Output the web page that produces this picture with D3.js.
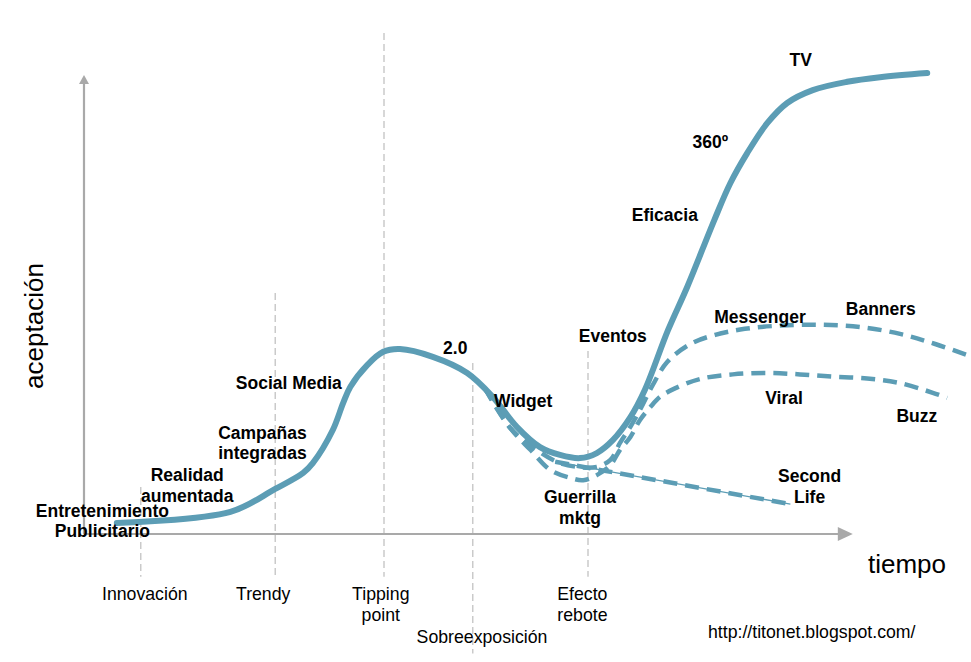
<!DOCTYPE html>
<html>
<head>
<meta charset="utf-8">
<script src="https://cdn.jsdelivr.net/npm/d3@7"></script>
<style>
  html, body { margin: 0; padding: 0; background: #fff; }
  svg { display: block; }
  text { font-family: "Liberation Sans", Arial, Helvetica, sans-serif; fill: #000; }
</style>
</head>
<body>
<script>
// ---------- DATA (time units, acceptance units) ----------
const mainCurve = [
  [4.1,2.4],[18.3,4.8],[23.9,9.8],[27.4,13.3],[28.6,15.4],[31.1,22.6],[32.4,28.5],[33.3,32.0],
  [35.4,36.7],[37.4,39.6],[39.5,40.2],[43.6,38.5],[47.9,35.0],[51.1,29.8],[54.1,23.3],[57.0,18.9],
  [59.5,17.2],[62.0,16.5],[64.1,17.6],[66.1,20.4],[68.3,25.4],[70.1,31.3],[73.0,44.3],[75.4,53.7],
  [78.8,68.3],[80.8,76.3],[82.9,82.8],[85.4,89.3],[87.9,93.7],[91.1,96.5],[95.4,98.3],[99.5,99.3],[105.4,100.2]
];
const bannersCurve = [
  [50.1,31.7],[53.3,23.0],[56.1,18.9],[59.1,15.7],[61.6,14.6],[64.1,14.6],[65.8,16.1],[67.0,19.8],
  [68.3,23.3],[69.5,27.0],[71.1,32.4],[72.9,37.4],[75.8,41.3],[78.9,43.3],[82.6,44.6],[87.0,45.3],
  [92.0,45.5],[97.0,45.0],[102.0,43.5],[106.4,41.3],[111.4,38.3]
];
const viralCurve = [
  [50.1,31.7],[53.3,23.0],[55.8,18.3],[58.3,13.9],[60.8,12.2],[62.4,11.7],[64.1,12.8],[65.8,15.0],
  [67.0,18.3],[68.3,21.1],[69.5,24.8],[70.8,27.6],[72.0,29.8],[73.8,31.6],[77.0,33.7],[81.1,34.7],
  [85.4,35.0],[89.5,34.7],[93.6,34.2],[97.9,33.8],[102.0,32.8],[106.1,30.7],[107.9,29.6]
];
const secondLifeCurve = [[58.9,15.7],[63.3,14.3],[88.3,6.5]];

// curve annotations: text lines, x, y (baseline of first line)
const curveLabels = [
  {t:["TV"], x:89.6, y:101.7},
  {t:["360º"], x:78.3, y:83.9},
  {t:["Eficacia"], x:72.6, y:68.0},
  {t:["Messenger"], x:84.5, y:45.9},
  {t:["Banners"], x:99.6, y:47.6},
  {t:["Eventos"], x:66.1, y:41.7},
  {t:["2.0"], x:46.4, y:39.1},
  {t:["Widget"], x:54.9, y:27.6},
  {t:["Viral"], x:87.5, y:28.3},
  {t:["Buzz"], x:104.1, y:24.3},
  {t:["Social Media"], x:25.6, y:31.5},
  {t:["Campañas","integradas"], x:22.3, y:20.7},
  {t:["Realidad","aumentada"], x:12.9, y:11.5},
  {t:["Entretenimiento","Publicitario"], x:2.3, y:3.7},
  {t:["Guerrilla","mktg"], x:62.0, y:6.7},
  {t:["Second","Life"], x:90.7, y:11.3}
];

// phases: guide line x, guide top/bottom, label lines, label x, label y
const phases = [
  {x:7.1,  top:10.2,  bottom:-9.3,  t:["Innovación"], lx:7.6,  ly:-14.3},
  {x:23.9, top:52.4,  bottom:-9.3,  t:["Trendy"], lx:22.4, ly:-14.3},
  {x:37.5, top:108.9, bottom:-9.3,  t:["Tipping","point"], lx:37.1, ly:-14.3},
  {x:48.6, top:37.2,  bottom:-26.0, t:["Sobreexposición"], lx:49.75, ly:-23.7},
  {x:63.0, top:39.8,  bottom:-9.3,  t:["Efecto","rebote"], lx:62.3, ly:-14.3}
];
const xAxisEnd = 96.1, yAxisEnd = 100;

// ---------- CHART ----------
const W = 971, H = 662;
const color = "#5c9db5";
const axisColor = "#a9a9a9";
const svg = d3.select("body").append("svg").attr("width", W).attr("height", H);

const x = d3.scaleLinear().domain([0, 100]).range([84, 884]);
const y = d3.scaleLinear().domain([0, 100]).range([534, 74]);

// guides
svg.append("g").selectAll("line").data(phases).join("line")
  .attr("x1", d => x(d.x)).attr("x2", d => x(d.x))
  .attr("y1", d => y(d.top)).attr("y2", d => y(d.bottom))
  .attr("stroke", "#bdbdbd").attr("stroke-width", 1.2).attr("stroke-dasharray", "7,4");

// axes
svg.append("line").attr("x1", x(0)).attr("y1", y(0)).attr("x2", x(xAxisEnd) - 12).attr("y2", y(0))
  .attr("stroke", axisColor).attr("stroke-width", 2.2);
svg.append("path")
  .attr("d", `M${x(xAxisEnd)},${y(0)} L${x(xAxisEnd)-15},${y(0)-7} L${x(xAxisEnd)-15},${y(0)+7} Z`)
  .attr("fill", axisColor);
svg.append("line").attr("x1", x(0)).attr("y1", y(0)).attr("x2", x(0)).attr("y2", y(yAxisEnd) + 7)
  .attr("stroke", axisColor).attr("stroke-width", 2.2);
svg.append("path")
  .attr("d", `M${x(0)},${y(yAxisEnd)+1} L${x(0)-5},${y(yAxisEnd)+10} L${x(0)+5},${y(yAxisEnd)+10} Z`)
  .attr("fill", axisColor);

// curves
const line = d3.line().x(d => x(d[0])).y(d => y(d[1])).curve(d3.curveCatmullRom.alpha(0.5));
const straight = d3.line().x(d => x(d[0])).y(d => y(d[1]));

svg.append("path").attr("d", straight(secondLifeCurve))
  .attr("fill", "none").attr("stroke", color).attr("stroke-width", 1.3);
svg.append("path").attr("d", straight(secondLifeCurve))
  .attr("fill", "none").attr("stroke", color).attr("stroke-width", 4.5)
  .attr("stroke-dasharray", "14,8");

[viralCurve, bannersCurve].forEach(c => {
  svg.append("path").attr("d", line(c))
    .attr("fill", "none").attr("stroke", color).attr("stroke-width", 4.5)
    .attr("stroke-dasharray", "14,8");
});

svg.append("path").attr("d", line(mainCurve))
  .attr("fill", "none").attr("stroke", color).attr("stroke-width", 6)
  .attr("stroke-linecap", "round").attr("stroke-linejoin", "round");

// curve labels
const lg = svg.append("g").attr("font-weight", "bold").attr("font-size", "17.5px").attr("text-anchor", "middle");
curveLabels.forEach(l => {
  const t = lg.append("text").attr("x", x(l.x)).attr("y", y(l.y));
  l.t.forEach((s, i) => t.append("tspan").attr("x", x(l.x)).attr("dy", i === 0 ? 0 : 20.5).text(s));
});

// phase labels
const pg = svg.append("g").attr("font-size", "17.7px").attr("text-anchor", "middle");
phases.forEach(p => {
  const t = pg.append("text").attr("x", x(p.lx)).attr("y", y(p.ly));
  p.t.forEach((s, i) => t.append("tspan").attr("x", x(p.lx)).attr("dy", i === 0 ? 0 : 21).text(s));
});

// axis titles
svg.append("text").attr("x", 868).attr("y", 573).attr("font-size", "26px").text("tiempo");
svg.append("text").attr("transform", "translate(43,326) rotate(-90)")
  .attr("text-anchor", "middle").attr("font-size", "26px").text("aceptación");

// credit
svg.append("text").attr("x", 708).attr("y", 638).attr("font-size", "17.7px").text("http://titonet.blogspot.com/");
</script>
</body>
</html>
